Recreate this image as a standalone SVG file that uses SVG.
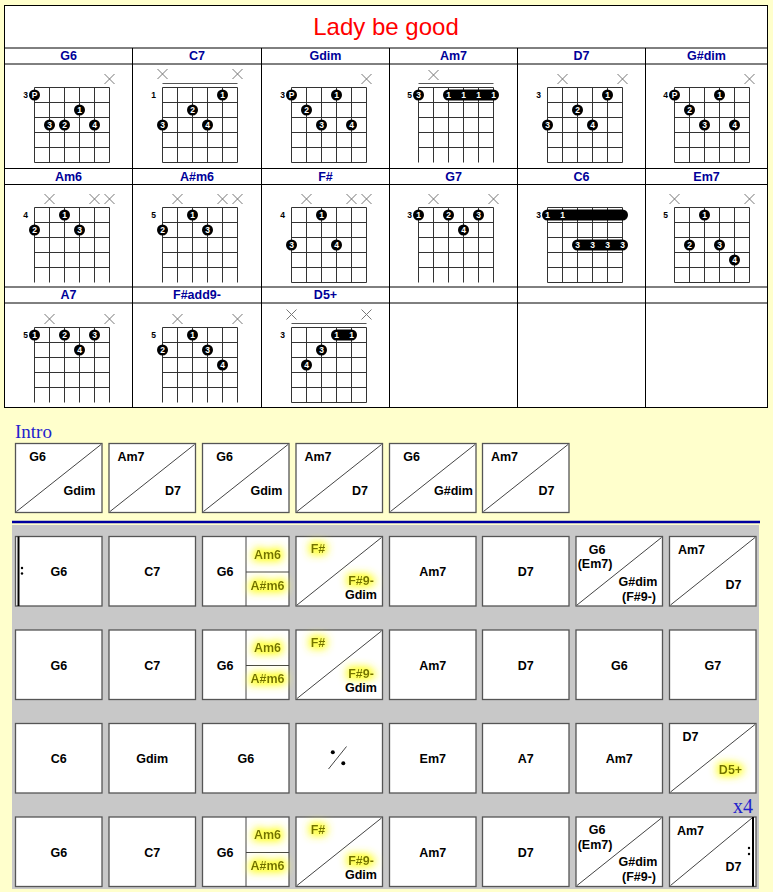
<svg xmlns="http://www.w3.org/2000/svg" xmlns:xlink="http://www.w3.org/1999/xlink" width="773" height="892" viewBox="0 0 773 892">
<style>
text{font-family:"Liberation Sans",Arial,sans-serif}
.t{font-size:24px;fill:#ff0000;text-anchor:middle}
.h{font-size:12.5px;font-weight:bold;fill:#000099;text-anchor:middle}
.tb{fill:none;stroke:#000;stroke-width:1}
.tbg{fill:#fff;stroke:#000;stroke-width:1}
.gr{fill:none;stroke:#333;stroke-width:1}
.x{stroke:#777;stroke-width:1;fill:none}
.nut{stroke:#555;stroke-width:1}
.d{fill:#000}
.dn{font-size:8.5px;font-weight:bold;fill:#fff;text-anchor:middle}
.fr{font-size:8.5px;font-weight:bold;fill:#000;text-anchor:middle}
.bx{fill:#fff;stroke:#555;stroke-width:1.3}
.c{font-size:12.5px;font-weight:bold;fill:#000;text-anchor:middle}
.hl{fill:#727200;filter:url(#glow)}
.dg{stroke:#444;stroke-width:1;fill:none}
.blue{font-family:"Liberation Serif","Times New Roman",serif;fill:#2222cc}
.rp{stroke:#000;stroke-width:2}
</style>
<defs>
<filter id="glow" x="-80%" y="-120%" width="260%" height="340%">
<feMorphology in="SourceAlpha" operator="dilate" radius="1.5" result="d"/>
<feGaussianBlur in="d" stdDeviation="4.5" result="b"/>
<feComponentTransfer in="b" result="b2"><feFuncA type="linear" slope="1.5"/></feComponentTransfer>
<feFlood flood-color="#ffff33" flood-opacity="0.8"/>
<feComposite in2="b2" operator="in" result="g"/>
<feMerge><feMergeNode in="g"/><feMergeNode in="SourceGraphic"/></feMerge>
</filter>
<path id="gF" d="M0 0V75M15 0V75M30 0V75M45 0V75M60 0V75M75 0V75M0 0H75M0 15H75M0 30H75M0 45H75M0 60H75M0 75H75"/>
<path id="gO" d="M0 0V75M15 0V75M30 0V75M45 0V75M60 0V75M75 0V75M0 0H75M0 15H75M0 30H75M0 45H75M0 60H75"/>
<path id="xm" d="M-5 -5L5 5M5 -5L-5 5"/>
</defs>
<rect x="0" y="0" width="773" height="892" fill="#ffffcc"/>

<g id="chord-table">
<rect x="4.5" y="5.5" width="763" height="402" class="tbg"/>
<path class="tb" d="M4.5 48H767.5M4.5 64H767.5M4.5 168.5H767.5M4.5 184.5H767.5M4.5 287H767.5M4.5 303H767.5M132.5 48V407.5M261.5 48V407.5M389.5 48V407.5M517.5 48V407.5M645.5 48V407.5"/>
<text class="t" x="386" y="35">Lady be good</text>
<text class="h" x="68.5" y="60">G6</text>
<text class="h" x="197" y="60">C7</text>
<text class="h" x="325.5" y="60">Gdim</text>
<text class="h" x="453.5" y="60">Am7</text>
<text class="h" x="581.5" y="60">D7</text>
<text class="h" x="706.5" y="60">G#dim</text>
<text class="h" x="68.5" y="180.5">Am6</text>
<text class="h" x="197" y="180.5">A#m6</text>
<text class="h" x="325.5" y="180.5">F#</text>
<text class="h" x="453.5" y="180.5">G7</text>
<text class="h" x="581.5" y="180.5">C6</text>
<text class="h" x="706.5" y="180.5">Em7</text>
<text class="h" x="68.5" y="299">A7</text>
<text class="h" x="197" y="299">F#add9-</text>
<text class="h" x="325.5" y="299">D5+</text>
</g>

<g id="chord-G6">
<use href="#gF" class="gr" x="34.5" y="87.5"/>
<use href="#xm" class="x" x="109.5" y="79"/>
<text class="fr" x="25.5" y="98">3</text>
<circle class="d" cx="34.5" cy="95" r="5.5"/><text class="dn" x="34.5" y="98">P</text>
<circle class="d" cx="79.5" cy="110" r="5.5"/><text class="dn" x="79.5" y="113">1</text>
<circle class="d" cx="49.5" cy="125" r="5.5"/><text class="dn" x="49.5" y="128">3</text>
<circle class="d" cx="64.5" cy="125" r="5.5"/><text class="dn" x="64.5" y="128">2</text>
<circle class="d" cx="94.5" cy="125" r="5.5"/><text class="dn" x="94.5" y="128">4</text>
</g>

<g id="chord-C7">
<use href="#gF" class="gr" x="162.5" y="87.5"/>
<path class="nut" d="M162.5 83.5H237.5"/>
<use href="#xm" class="x" x="162.5" y="74"/>
<use href="#xm" class="x" x="237.5" y="74"/>
<text class="fr" x="153.5" y="98">1</text>
<circle class="d" cx="222.5" cy="95" r="5.5"/><text class="dn" x="222.5" y="98">1</text>
<circle class="d" cx="192.5" cy="110" r="5.5"/><text class="dn" x="192.5" y="113">2</text>
<circle class="d" cx="162.5" cy="125" r="5.5"/><text class="dn" x="162.5" y="128">3</text>
<circle class="d" cx="207.5" cy="125" r="5.5"/><text class="dn" x="207.5" y="128">4</text>
</g>

<g id="chord-Gdim">
<use href="#gF" class="gr" x="291.5" y="87.5"/>
<use href="#xm" class="x" x="366.5" y="79"/>
<text class="fr" x="282.5" y="98">3</text>
<circle class="d" cx="291.5" cy="95" r="5.5"/><text class="dn" x="291.5" y="98">P</text>
<circle class="d" cx="336.5" cy="95" r="5.5"/><text class="dn" x="336.5" y="98">1</text>
<circle class="d" cx="306.5" cy="110" r="5.5"/><text class="dn" x="306.5" y="113">2</text>
<circle class="d" cx="321.5" cy="125" r="5.5"/><text class="dn" x="321.5" y="128">3</text>
<circle class="d" cx="351.5" cy="125" r="5.5"/><text class="dn" x="351.5" y="128">4</text>
</g>

<g id="chord-Am7">
<use href="#gO" class="gr" x="418.5" y="87.5"/>
<path class="nut" d="M418.5 83.5H493.5"/>
<use href="#xm" class="x" x="433.5" y="75"/>
<text class="fr" x="409.5" y="98">5</text>
<circle class="d" cx="418.5" cy="95" r="5.5"/><text class="dn" x="418.5" y="98">3</text>
<rect class="d" x="443" y="89.5" width="56" height="11" rx="5.5"/>
<text class="dn" x="448.5" y="98">1</text><text class="dn" x="463.5" y="98">1</text><text class="dn" x="478.5" y="98">1</text><text class="dn" x="493.5" y="98">1</text>
</g>

<g id="chord-D7">
<use href="#gF" class="gr" x="547.5" y="87.5"/>
<use href="#xm" class="x" x="562.5" y="79"/>
<use href="#xm" class="x" x="622.5" y="79"/>
<text class="fr" x="538.5" y="98">3</text>
<circle class="d" cx="607.5" cy="95" r="5.5"/><text class="dn" x="607.5" y="98">1</text>
<circle class="d" cx="577.5" cy="110" r="5.5"/><text class="dn" x="577.5" y="113">2</text>
<circle class="d" cx="547.5" cy="125" r="5.5"/><text class="dn" x="547.5" y="128">3</text>
<circle class="d" cx="592.5" cy="125" r="5.5"/><text class="dn" x="592.5" y="128">4</text>
</g>

<g id="chord-Gsdim">
<use href="#gF" class="gr" x="674.5" y="87.5"/>
<use href="#xm" class="x" x="749.5" y="79"/>
<text class="fr" x="665.5" y="98">4</text>
<circle class="d" cx="674.5" cy="95" r="5.5"/><text class="dn" x="674.5" y="98">P</text>
<circle class="d" cx="719.5" cy="95" r="5.5"/><text class="dn" x="719.5" y="98">1</text>
<circle class="d" cx="689.5" cy="110" r="5.5"/><text class="dn" x="689.5" y="113">2</text>
<circle class="d" cx="704.5" cy="125" r="5.5"/><text class="dn" x="704.5" y="128">3</text>
<circle class="d" cx="734.5" cy="125" r="5.5"/><text class="dn" x="734.5" y="128">4</text>
</g>

<g id="chord-Am6">
<use href="#gO" class="gr" x="34.5" y="207.5"/>
<use href="#xm" class="x" x="49.5" y="199"/>
<use href="#xm" class="x" x="94.5" y="199"/>
<use href="#xm" class="x" x="109.5" y="199"/>
<text class="fr" x="25.5" y="218">4</text>
<circle class="d" cx="64.5" cy="215" r="5.5"/><text class="dn" x="64.5" y="218">1</text>
<circle class="d" cx="34.5" cy="230" r="5.5"/><text class="dn" x="34.5" y="233">2</text>
<circle class="d" cx="79.5" cy="230" r="5.5"/><text class="dn" x="79.5" y="233">3</text>
</g>

<g id="chord-Asm6">
<use href="#gO" class="gr" x="162.5" y="207.5"/>
<use href="#xm" class="x" x="177.5" y="199"/>
<use href="#xm" class="x" x="222.5" y="199"/>
<use href="#xm" class="x" x="237.5" y="199"/>
<text class="fr" x="153.5" y="218">5</text>
<circle class="d" cx="192.5" cy="215" r="5.5"/><text class="dn" x="192.5" y="218">1</text>
<circle class="d" cx="162.5" cy="230" r="5.5"/><text class="dn" x="162.5" y="233">2</text>
<circle class="d" cx="207.5" cy="230" r="5.5"/><text class="dn" x="207.5" y="233">3</text>
</g>

<g id="chord-Fs">
<use href="#gF" class="gr" x="291.5" y="207.5"/>
<use href="#xm" class="x" x="306.5" y="199"/>
<use href="#xm" class="x" x="351.5" y="199"/>
<use href="#xm" class="x" x="366.5" y="199"/>
<text class="fr" x="282.5" y="218">4</text>
<circle class="d" cx="321.5" cy="215" r="5.5"/><text class="dn" x="321.5" y="218">1</text>
<circle class="d" cx="291.5" cy="245" r="5.5"/><text class="dn" x="291.5" y="248">3</text>
<circle class="d" cx="336.5" cy="245" r="5.5"/><text class="dn" x="336.5" y="248">4</text>
</g>

<g id="chord-G7">
<use href="#gO" class="gr" x="418.5" y="207.5"/>
<use href="#xm" class="x" x="433.5" y="199"/>
<use href="#xm" class="x" x="493.5" y="199"/>
<text class="fr" x="409.5" y="218">3</text>
<circle class="d" cx="418.5" cy="215" r="5.5"/><text class="dn" x="418.5" y="218">1</text>
<circle class="d" cx="448.5" cy="215" r="5.5"/><text class="dn" x="448.5" y="218">2</text>
<circle class="d" cx="478.5" cy="215" r="5.5"/><text class="dn" x="478.5" y="218">3</text>
<circle class="d" cx="463.5" cy="230" r="5.5"/><text class="dn" x="463.5" y="233">4</text>
</g>

<g id="chord-C6">
<use href="#gF" class="gr" x="547.5" y="207.5"/>
<text class="fr" x="538.5" y="218">3</text>
<rect class="d" x="542" y="209.5" width="86" height="11" rx="5.5"/>
<text class="dn" x="547.5" y="218">1</text><text class="dn" x="562.5" y="218">1</text>
<rect class="d" x="572" y="239.5" width="56" height="11" rx="5.5"/>
<text class="dn" x="577.5" y="248">3</text><text class="dn" x="592.5" y="248">3</text><text class="dn" x="607.5" y="248">3</text><text class="dn" x="622.5" y="248">3</text>
</g>

<g id="chord-Em7">
<use href="#gF" class="gr" x="674.5" y="207.5"/>
<use href="#xm" class="x" x="674.5" y="199"/>
<use href="#xm" class="x" x="749.5" y="199"/>
<text class="fr" x="665.5" y="218">5</text>
<circle class="d" cx="704.5" cy="215" r="5.5"/><text class="dn" x="704.5" y="218">1</text>
<circle class="d" cx="689.5" cy="245" r="5.5"/><text class="dn" x="689.5" y="248">2</text>
<circle class="d" cx="719.5" cy="245" r="5.5"/><text class="dn" x="719.5" y="248">3</text>
<circle class="d" cx="734.5" cy="260" r="5.5"/><text class="dn" x="734.5" y="263">4</text>
</g>

<g id="chord-A7">
<use href="#gO" class="gr" x="34.5" y="327.5"/>
<use href="#xm" class="x" x="49.5" y="319"/>
<use href="#xm" class="x" x="109.5" y="319"/>
<text class="fr" x="25.5" y="338">5</text>
<circle class="d" cx="34.5" cy="335" r="5.5"/><text class="dn" x="34.5" y="338">1</text>
<circle class="d" cx="64.5" cy="335" r="5.5"/><text class="dn" x="64.5" y="338">2</text>
<circle class="d" cx="94.5" cy="335" r="5.5"/><text class="dn" x="94.5" y="338">3</text>
<circle class="d" cx="79.5" cy="350" r="5.5"/><text class="dn" x="79.5" y="353">4</text>
</g>

<g id="chord-Fsadd9m">
<use href="#gO" class="gr" x="162.5" y="327.5"/>
<use href="#xm" class="x" x="177.5" y="319"/>
<use href="#xm" class="x" x="237.5" y="319"/>
<text class="fr" x="153.5" y="338">5</text>
<circle class="d" cx="192.5" cy="335" r="5.5"/><text class="dn" x="192.5" y="338">1</text>
<circle class="d" cx="162.5" cy="350" r="5.5"/><text class="dn" x="162.5" y="353">2</text>
<circle class="d" cx="207.5" cy="350" r="5.5"/><text class="dn" x="207.5" y="353">3</text>
<circle class="d" cx="222.5" cy="365" r="5.5"/><text class="dn" x="222.5" y="368">4</text>
</g>

<g id="chord-D5aug">
<use href="#gF" class="gr" x="291.5" y="327.5"/>
<path class="nut" d="M291.5 323.5H366.5"/>
<use href="#xm" class="x" x="291.5" y="314.5"/>
<use href="#xm" class="x" x="366.5" y="314.5"/>
<text class="fr" x="282.5" y="338">3</text>
<rect class="d" x="331" y="329.5" width="26" height="11" rx="5.5"/>
<text class="dn" x="336.5" y="338">1</text><text class="dn" x="351.5" y="338">1</text>
<circle class="d" cx="321.5" cy="350" r="5.5"/><text class="dn" x="321.5" y="353">3</text>
<circle class="d" cx="306.5" cy="365" r="5.5"/><text class="dn" x="306.5" y="368">4</text>
</g>

<g id="intro">
<text class="blue" x="15" y="438" font-size="19">Intro</text>
<g id="intro-1"><rect class="bx" x="15.5" y="443.5" width="86.5" height="69"/><path class="dg" d="M16.5 511.5L101 444.5"/><text class="c" x="37.5" y="461">G6</text><text class="c" x="79.5" y="495">Gdim</text></g>
<g id="intro-2"><rect class="bx" x="109" y="443.5" width="86.5" height="69"/><path class="dg" d="M110 511.5L194.5 444.5"/><text class="c" x="131" y="461">Am7</text><text class="c" x="173" y="495">D7</text></g>
<g id="intro-3"><rect class="bx" x="202.5" y="443.5" width="86.5" height="69"/><path class="dg" d="M203.5 511.5L288 444.5"/><text class="c" x="224.5" y="461">G6</text><text class="c" x="266.5" y="495">Gdim</text></g>
<g id="intro-4"><rect class="bx" x="296" y="443.5" width="86.5" height="69"/><path class="dg" d="M297 511.5L381.5 444.5"/><text class="c" x="318" y="461">Am7</text><text class="c" x="360" y="495">D7</text></g>
<g id="intro-5"><rect class="bx" x="389.5" y="443.5" width="86.5" height="69"/><path class="dg" d="M390.5 511.5L475 444.5"/><text class="c" x="411.5" y="461">G6</text><text class="c" x="453.5" y="495">G#dim</text></g>
<g id="intro-6"><rect class="bx" x="482.5" y="443.5" width="86.5" height="69"/><path class="dg" d="M483.5 511.5L568 444.5"/><text class="c" x="504.5" y="461">Am7</text><text class="c" x="546.5" y="495">D7</text></g>
</g>

<path d="M12 522H760" stroke="#0000a0" stroke-width="2.5"/>
<rect x="12" y="525" width="747" height="364" fill="#c8c8c8"/>

<g id="row1">
<g id="r1c1"><rect class="bx" x="15.5" y="536.5" width="86.5" height="69.5"/><path class="rp" d="M18.5 536.5V606"/><circle cx="22" cy="568" r="1.2"/><circle cx="22" cy="573.5" r="1.2"/><text class="c" x="58.75" y="576">G6</text></g>
<g id="r1c2"><rect class="bx" x="109" y="536.5" width="86.5" height="69.5"/><text class="c" x="152.25" y="576">C7</text></g>
<g id="r1c3"><rect class="bx" x="202.5" y="536.5" width="86.5" height="69.5"/><path class="dg" d="M246 536.5V606M246 572H289"/><text class="c" x="225" y="576">G6</text><text class="c hl" x="267.5" y="558.5">Am6</text><text class="c hl" x="267.5" y="589.5">A#m6</text></g>
<g id="r1c4"><rect class="bx" x="296" y="536.5" width="86.5" height="69.5"/><path class="dg" d="M297 605L381.5 537.5"/><text class="c hl" x="318" y="553">F#</text><text class="c hl" x="361" y="584.5">F#9-</text><text class="c" x="361" y="598.5">Gdim</text></g>
<g id="r1c5"><rect class="bx" x="389.5" y="536.5" width="86.5" height="69.5"/><text class="c" x="432.75" y="576">Am7</text></g>
<g id="r1c6"><rect class="bx" x="482.5" y="536.5" width="86.5" height="69.5"/><text class="c" x="525.75" y="576">D7</text></g>
<g id="r1c7"><rect class="bx" x="576" y="536.5" width="86.5" height="69.5"/><path class="dg" d="M577 605L661.5 537.5"/><text class="c" x="597" y="553.5">G6</text><text class="c" x="595" y="568">(Em7)</text><text class="c" x="638" y="585.5">G#dim</text><text class="c" x="639" y="600.5">(F#9-)</text></g>
<g id="r1c8"><rect class="bx" x="669.5" y="536.5" width="86.5" height="69.5"/><path class="dg" d="M670.5 605L755 537.5"/><text class="c" x="691.5" y="554">Am7</text><text class="c" x="733.5" y="589">D7</text></g>
</g>

<g id="row2">
<g id="r2c1"><rect class="bx" x="15.5" y="630" width="86.5" height="69.5"/><text class="c" x="58.75" y="669.5">G6</text></g>
<g id="r2c2"><rect class="bx" x="109" y="630" width="86.5" height="69.5"/><text class="c" x="152.25" y="669.5">C7</text></g>
<g id="r2c3"><rect class="bx" x="202.5" y="630" width="86.5" height="69.5"/><path class="dg" d="M246 630V699.5M246 665.5H289"/><text class="c" x="225" y="669.5">G6</text><text class="c hl" x="267.5" y="652">Am6</text><text class="c hl" x="267.5" y="683">A#m6</text></g>
<g id="r2c4"><rect class="bx" x="296" y="630" width="86.5" height="69.5"/><path class="dg" d="M297 698.5L381.5 631"/><text class="c hl" x="318" y="646.5">F#</text><text class="c hl" x="361" y="678">F#9-</text><text class="c" x="361" y="692">Gdim</text></g>
<g id="r2c5"><rect class="bx" x="389.5" y="630" width="86.5" height="69.5"/><text class="c" x="432.75" y="669.5">Am7</text></g>
<g id="r2c6"><rect class="bx" x="482.5" y="630" width="86.5" height="69.5"/><text class="c" x="525.75" y="669.5">D7</text></g>
<g id="r2c7"><rect class="bx" x="576" y="630" width="86.5" height="69.5"/><text class="c" x="619.25" y="669.5">G6</text></g>
<g id="r2c8"><rect class="bx" x="669.5" y="630" width="86.5" height="69.5"/><text class="c" x="712.75" y="669.5">G7</text></g>
</g>

<g id="row3">
<g id="r3c1"><rect class="bx" x="15.5" y="723.5" width="86.5" height="69.5"/><text class="c" x="58.75" y="763">C6</text></g>
<g id="r3c2"><rect class="bx" x="109" y="723.5" width="86.5" height="69.5"/><text class="c" x="152.25" y="763">Gdim</text></g>
<g id="r3c3"><rect class="bx" x="202.5" y="723.5" width="86.5" height="69.5"/><text class="c" x="245.75" y="763">G6</text></g>
<g id="r3c4"><rect class="bx" x="296" y="723.5" width="86.5" height="69.5"/><path class="dg" d="M328.5 769L346.5 746.5"/><circle cx="332.8" cy="752.3" r="2"/><circle cx="343.3" cy="763.3" r="2"/></g>
<g id="r3c5"><rect class="bx" x="389.5" y="723.5" width="86.5" height="69.5"/><text class="c" x="432.75" y="763">Em7</text></g>
<g id="r3c6"><rect class="bx" x="482.5" y="723.5" width="86.5" height="69.5"/><text class="c" x="525.75" y="763">A7</text></g>
<g id="r3c7"><rect class="bx" x="576" y="723.5" width="86.5" height="69.5"/><text class="c" x="619.25" y="763">Am7</text></g>
<g id="r3c8"><rect class="bx" x="669.5" y="723.5" width="86.5" height="69.5"/><path class="dg" d="M670.5 792L755 724.5"/><text class="c" x="690.5" y="741">D7</text><text class="c hl" x="730.5" y="774">D5+</text></g>
</g>

<text class="blue" x="733" y="812.5" font-size="20">x4</text>

<g id="row4">
<g id="r4c1"><rect class="bx" x="15.5" y="817" width="86.5" height="69.5"/><text class="c" x="58.75" y="856.5">G6</text></g>
<g id="r4c2"><rect class="bx" x="109" y="817" width="86.5" height="69.5"/><text class="c" x="152.25" y="856.5">C7</text></g>
<g id="r4c3"><rect class="bx" x="202.5" y="817" width="86.5" height="69.5"/><path class="dg" d="M246 817V886.5M246 852.5H289"/><text class="c" x="225" y="856.5">G6</text><text class="c hl" x="267.5" y="839">Am6</text><text class="c hl" x="267.5" y="870">A#m6</text></g>
<g id="r4c4"><rect class="bx" x="296" y="817" width="86.5" height="69.5"/><path class="dg" d="M297 885.5L381.5 818"/><text class="c hl" x="318" y="833.5">F#</text><text class="c hl" x="361" y="865">F#9-</text><text class="c" x="361" y="879">Gdim</text></g>
<g id="r4c5"><rect class="bx" x="389.5" y="817" width="86.5" height="69.5"/><text class="c" x="432.75" y="856.5">Am7</text></g>
<g id="r4c6"><rect class="bx" x="482.5" y="817" width="86.5" height="69.5"/><text class="c" x="525.75" y="856.5">D7</text></g>
<g id="r4c7"><rect class="bx" x="576" y="817" width="86.5" height="69.5"/><path class="dg" d="M577 885.5L661.5 818"/><text class="c" x="597" y="834">G6</text><text class="c" x="595" y="848.5">(Em7)</text><text class="c" x="638" y="866">G#dim</text><text class="c" x="639" y="881">(F#9-)</text></g>
<g id="r4c8"><rect class="bx" x="669.5" y="817" width="86.5" height="69.5"/><path class="dg" d="M670.5 885.5L752 818"/><path class="rp" d="M753 817V886.5"/><circle cx="749" cy="848" r="1.2"/><circle cx="749" cy="854" r="1.2"/><text class="c" x="690.5" y="834.5">Am7</text><text class="c" x="733.5" y="870.5">D7</text></g>
</g>
</svg>
